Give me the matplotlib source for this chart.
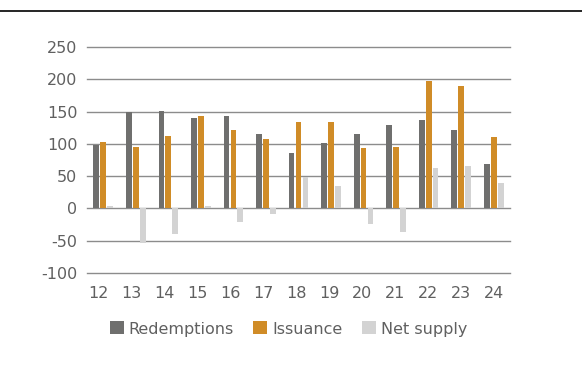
import matplotlib.pyplot as plt
from matplotlib.lines import Line2D
import numpy as np

years = ["12", "13", "14", "15", "16", "17", "18", "19", "20", "21", "22", "23", "24"]
redemptions = [99, 149, 151, 140, 143, 116, 86, 101, 116, 129, 137, 121, 69]
issuance = [103, 95, 112, 143, 121, 108, 134, 134, 93, 95, 197, 189, 110]
net_supply = [3, -54, -39, 3, -21, -8, 49, 34, -24, -36, 62, 66, 40]

c_red = "#6f6f6e"
c_iss = "#d08c27"
c_net = "#d3d3d3"
txt = "#606060"
grid_c = "#8c8c8c"

plt.rcParams["font.family"] = "DejaVu Sans"
plt.rcParams["axes.unicode_minus"] = False

fig = plt.figure(figsize=(5.82, 3.72), dpi=100)
ax = fig.add_axes([87 / 582, 1 - 273 / 372, 423 / 582, 226 / 372])

x = np.arange(len(years))
w = 0.178
step = 0.212
ax.bar(x - step, redemptions, w, color=c_red, label="Redemptions", zorder=3)
ax.bar(x, issuance, w, color=c_iss, label="Issuance", zorder=3)
ax.bar(x + step, net_supply, w, color=c_net, label="Net supply", zorder=3)

for v in range(-100, 251, 50):
    ax.axhline(v, color=grid_c, lw=1.0, zorder=1, clip_on=False)

ax.set_xlim(-0.5, len(years) - 0.5)
ax.set_ylim(-100, 250)
ax.set_yticks(range(-100, 251, 50))
# category labels sit slightly left of the bar groups on the left side
ax.set_xticks(np.linspace(-0.15, 12.0, len(years)))
ax.set_xticklabels(years)
ax.tick_params(axis="both", length=0, labelsize=11.5, colors=txt)
ax.tick_params(axis="y", pad=7)
ax.tick_params(axis="x", pad=9)
for s in ax.spines.values():
    s.set_visible(False)

fig.legend(loc="center", bbox_to_anchor=(288.5 / 582, 1 - 329 / 372), ncol=3,
           frameon=False, fontsize=11.5, labelcolor=txt, handlelength=0.875,
           handleheight=0.875, handletextpad=0.32, columnspacing=1.2,
           borderaxespad=0, borderpad=0)

fig.add_artist(Line2D([0, 1], [1 - 10.5 / 372] * 2, color="black", lw=1.2,
                      transform=fig.transFigure))

fig.savefig("out.png", dpi=100)
